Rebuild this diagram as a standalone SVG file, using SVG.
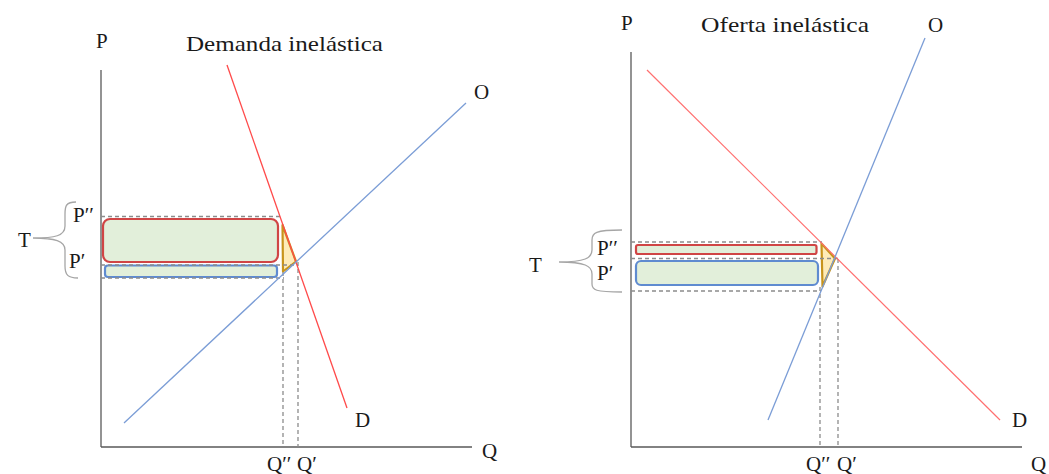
<svg xmlns="http://www.w3.org/2000/svg" width="1049" height="474" viewBox="0 0 1049 474">
<style>
text{font-family:"Liberation Serif","DejaVu Serif",serif;font-size:21px;fill:#1a1a1a}
.axis{stroke:#595959;stroke-width:1.3;fill:none}
.dem{stroke:#ff4a4a;stroke-width:1.3;fill:none}
.dem2{stroke:#ff7070;stroke-width:1.2;fill:none}
.sup{stroke:#7b9dd6;stroke-width:1.3;fill:none}
.dash{stroke:#8c8c8c;stroke-width:1.3;stroke-dasharray:4 3;fill:none}
.redbox{fill:#e2efda;stroke:#d04545;stroke-width:2.2}
.bluebox{fill:#e2efda;stroke:#5f8bd0;stroke-width:2.2}
.tri{fill:#feebb8;stroke:#c8941c;stroke-width:2.2;stroke-linejoin:round}
.brace{stroke:#a6a6a6;stroke-width:1.3;fill:none}
</style>
<rect width="1049" height="474" fill="#fff"/>
<g id="left-chart">
<g id="left-axes">
<line class="axis" x1="101" y1="70" x2="101" y2="447"/>
<line class="axis" x1="101" y1="447" x2="472" y2="447"/>
<text x="96" y="48">P</text>
<text x="482" y="458">Q</text>
</g>
<g id="left-areas">
<rect class="redbox" x="103" y="219" width="175" height="43" rx="7"/>
<rect class="bluebox" x="105" y="265.5" width="172" height="11.5" rx="3"/>
<polygon class="tri" points="282.5,225 283,271.5 296,261.5"/>
</g>
<g id="left-connectors">
<line class="dash" x1="101" y1="216.5" x2="283" y2="216.5"/>
<line class="dash" x1="101" y1="265" x2="298" y2="265"/>
<line class="dash" x1="101" y1="278" x2="284" y2="278"/>
<line class="dash" x1="283" y1="272" x2="283" y2="447"/>
<line class="dash" x1="298" y1="262" x2="298" y2="447"/>
<line class="dem" x1="227" y1="65" x2="347" y2="408"/>
<line class="sup" x1="124" y1="423" x2="466" y2="103"/>
<path class="brace" d="M76,202 C66,202 65,206 65,214 L65,226 C65,236 55,238 33,238 C55,238 65,241 65,250 L65,266 C65,275 68,278 78,278"/>
</g>
<g id="left-labels">
<text x="186" y="51" textLength="197" lengthAdjust="spacingAndGlyphs">Demanda inelástica</text>
<text x="474" y="99">O</text>
<text x="355" y="427">D</text>
<text x="18" y="247">T</text>
<text x="73" y="222">P′′</text>
<text x="69" y="268">P′</text>
<text x="267" y="471">Q′′</text>
<text x="297" y="471">Q′</text>
</g>
</g>
<g id="right-chart">
<g id="right-axes">
<line class="axis" x1="631" y1="52" x2="631" y2="447"/>
<line class="axis" x1="631" y1="447" x2="1022" y2="447"/>
<text x="621" y="30">P</text>
<text x="1031" y="471">Q</text>
</g>
<g id="right-areas">
<rect class="redbox" x="636" y="245" width="180.5" height="9" rx="2"/>
<rect class="bluebox" x="636" y="261" width="182" height="24" rx="5"/>
<polygon class="tri" points="821.5,243.5 822.5,286.5 835,258.5"/>
</g>
<g id="right-connectors">
<line class="dash" x1="631" y1="242" x2="822" y2="242"/>
<line class="dash" x1="631" y1="258.5" x2="838" y2="258.5"/>
<line class="dash" x1="631" y1="291" x2="821" y2="291"/>
<line class="dash" x1="820" y1="287" x2="820" y2="447"/>
<line class="dash" x1="838" y1="259" x2="838" y2="447"/>
<line class="dem2" x1="647" y1="70" x2="1000" y2="420"/>
<line class="sup" x1="768" y1="420" x2="925" y2="38"/>
<path class="brace" d="M622,230 C595,230 592,233 592,240 L592,250 C592,258 585,262 559,262 C585,262 592,266 592,274 L592,284 C592,290 595,292 622,292"/>
</g>
<g id="right-labels">
<text x="701" y="32" textLength="168" lengthAdjust="spacingAndGlyphs">Oferta inelástica</text>
<text x="928" y="32">O</text>
<text x="1012" y="427">D</text>
<text x="529" y="272">T</text>
<text x="597" y="255">P′′</text>
<text x="597" y="280">P′</text>
<text x="806" y="471">Q′′</text>
<text x="837" y="471">Q′</text>
</g>
</g>
</svg>
